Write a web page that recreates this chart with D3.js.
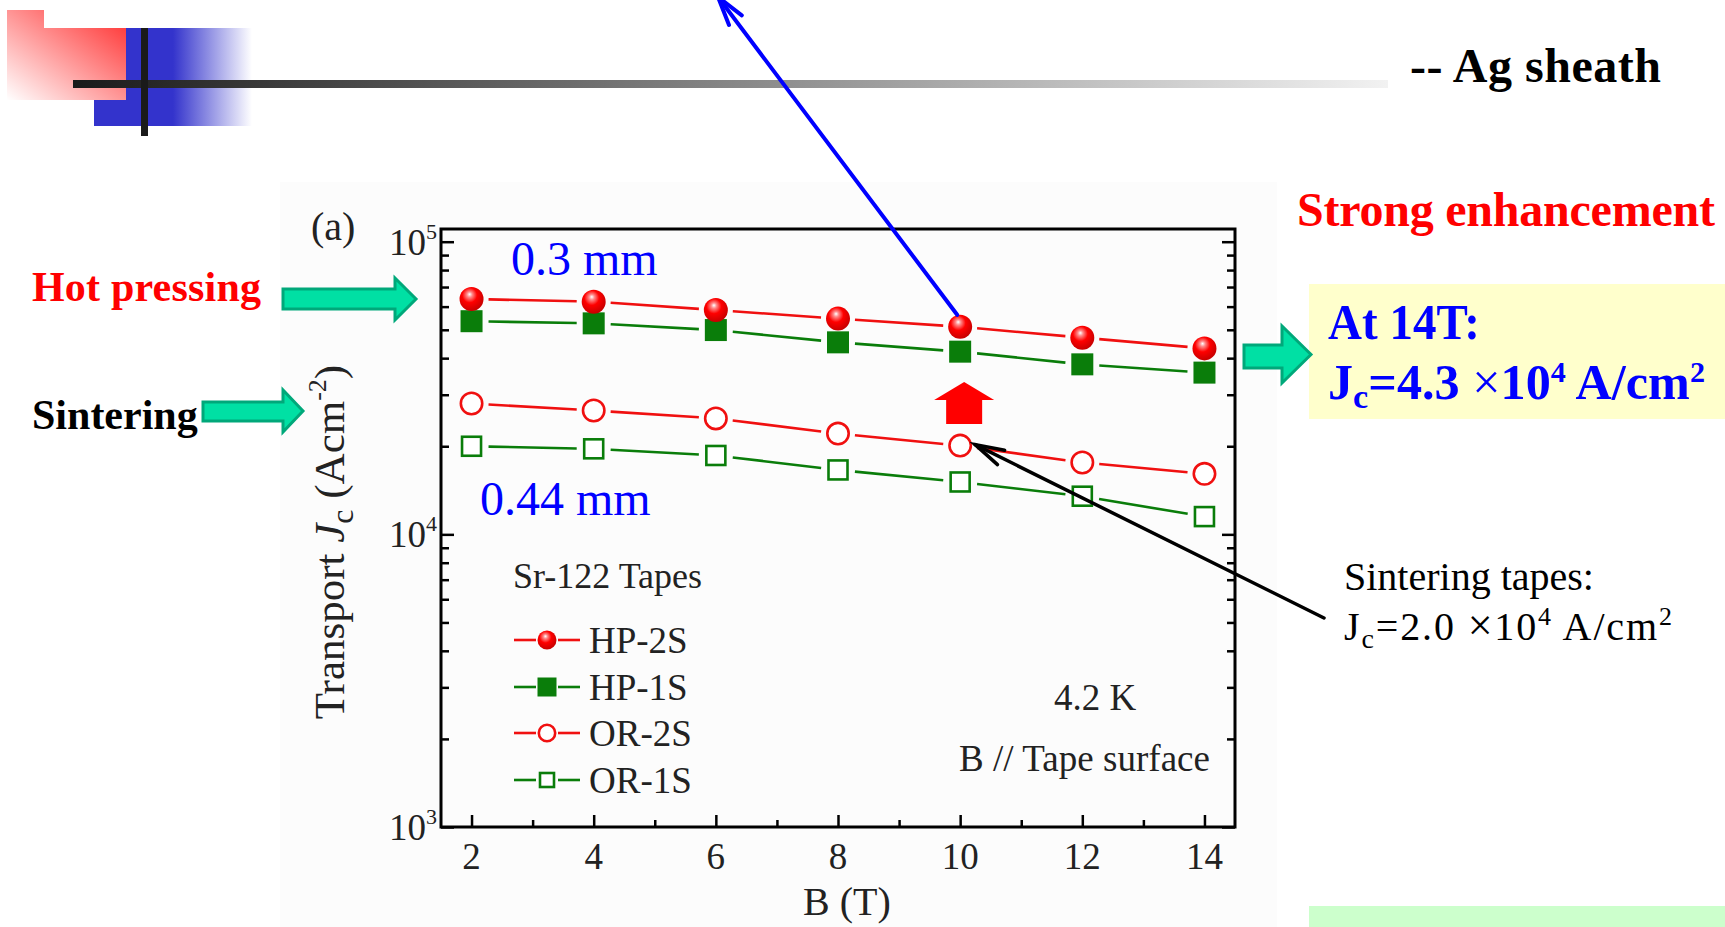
<!DOCTYPE html>
<html><head><meta charset="utf-8">
<script src="https://cdn.jsdelivr.net/npm/d3@7"></script>
<style>
body{margin:0;background:#fff;}
svg{display:block;}
text{font-family:"Liberation Serif","Times New Roman",serif;}
</style>
</head><body>
<svg id="c" width="1725" height="927"></svg>
<script>
// ---------- data ----------
const fields = [2, 4, 6, 8, 10, 12, 14];            // B (T)
const hp2s = [63700, 62400, 58400, 54600, 51200, 47000, 43200];
const hp1s = [53500, 52600, 49900, 45300, 42100, 38100, 35700];
const or2s = [28000, 26500, 24900, 22100, 20100, 17600, 16100];
const or1s = [20000, 19600, 18600, 16600, 15100, 13500, 11500];
const seriesNames = ["HP-2S", "HP-1S", "OR-2S", "OR-1S"];
const xTickValues = [2, 4, 6, 8, 10, 12, 14];
const xMinorTicks = [3, 5, 7, 9, 11, 13];
const yMajorTicks = [1e3, 1e4, 1e5];
const yTickExponents = ["3", "4", "5"];
const yMinorTicks = [2e3,3e3,4e3,5e3,6e3,7e3,8e3,9e3,2e4,3e4,4e4,5e4,6e4,7e4,8e4,9e4];

const RED = "#f01010", GREEN = "#0a7d0a";
const series = [
  {name: seriesNames[0], values: hp2s, color: RED,   shape: "ball"},
  {name: seriesNames[1], values: hp1s, color: GREEN, shape: "fsquare"},
  {name: seriesNames[2], values: or2s, color: RED,   shape: "ocircle"},
  {name: seriesNames[3], values: or1s, color: GREEN, shape: "osquare"}
];

const svg = d3.select("#c");
const defs = svg.append("defs");

// gradients
const gPink = defs.append("linearGradient").attr("id","gPink").attr("x1",1).attr("y1",0).attr("x2",0).attr("y2",1);
gPink.append("stop").attr("offset",0).attr("stop-color","#ff2a2a");
gPink.append("stop").attr("offset",1).attr("stop-color","#ffffff");
const gBlue = defs.append("linearGradient").attr("id","gBlue").attr("x1",0).attr("y1",0).attr("x2",1).attr("y2",0);
gBlue.append("stop").attr("offset",0).attr("stop-color","#3333cc");
gBlue.append("stop").attr("offset",0.5).attr("stop-color","#3333cc");
gBlue.append("stop").attr("offset",1).attr("stop-color","#ffffff");
const gBar = defs.append("linearGradient").attr("id","gBar").attr("x1",0).attr("y1",0).attr("x2",1).attr("y2",0);
gBar.append("stop").attr("offset",0).attr("stop-color","#1a1a1a");
gBar.append("stop").attr("offset",1).attr("stop-color","#f2f2f2");
const gBall = defs.append("radialGradient").attr("id","gBall").attr("cx",0.42).attr("cy",0.38).attr("r",0.62).attr("fx",0.42).attr("fy",0.3);
gBall.append("stop").attr("offset",0).attr("stop-color","#ffffff");
gBall.append("stop").attr("offset",0.18).attr("stop-color","#ff8a8a");
gBall.append("stop").attr("offset",0.5).attr("stop-color","#ff0000");
gBall.append("stop").attr("offset",1).attr("stop-color","#c80000");

// ---------- header decoration ----------
svg.append("rect").attr("x",94).attr("y",28).attr("width",158).attr("height",98).attr("fill","url(#gBlue)");
svg.append("path").attr("d","M7,10 H44 V28 H126 V100 H7 Z").attr("fill","url(#gPink)");
svg.append("rect").attr("x",73).attr("y",80).attr("width",1315).attr("height",8).attr("fill","url(#gBar)");
svg.append("rect").attr("x",141).attr("y",28).attr("width",7).attr("height",108).attr("fill","#1a1a1a");
svg.append("text").attr("x",1410).attr("y",82).attr("font-size",48).attr("font-weight","bold").attr("fill","#000").attr("textLength",251).text("-- Ag sheath");

// figure panel background
svg.append("rect").attr("x",280).attr("y",182).attr("width",997).attr("height",745).attr("fill","#fcfcfc");

// ---------- scales ----------
const x = d3.scaleLinear().domain([1.5, 14.5]).range([441, 1235]);
const y = d3.scaleLog().domain([1000, Math.pow(10, 5.0434)]).range([827, 229]);

// ---------- axes ----------
const axG = svg.append("g").attr("class","axes");
function styleAxis(g, w){ g.select(".domain").remove(); g.selectAll("line").attr("stroke","#000").attr("stroke-width",w); g.selectAll("text").remove(); }
axG.append("g").attr("transform","translate(0,827)").call(d3.axisBottom(x).tickValues(xTickValues).tickSize(-12)).call(g=>styleAxis(g,2.5));
axG.append("g").attr("transform","translate(0,827)").call(d3.axisBottom(x).tickValues(xMinorTicks).tickSize(-7)).call(g=>styleAxis(g,2.5));
axG.append("g").attr("transform","translate(441,0)").call(d3.axisLeft(y).tickValues(yMajorTicks).tickSize(-13)).call(g=>styleAxis(g,2.5));
axG.append("g").attr("transform","translate(441,0)").call(d3.axisLeft(y).tickValues(yMinorTicks).tickSize(-8)).call(g=>styleAxis(g,2.5));
axG.append("g").attr("transform","translate(1235,0)").call(d3.axisRight(y).tickValues(yMajorTicks).tickSize(-13)).call(g=>styleAxis(g,2.5));
axG.append("g").attr("transform","translate(1235,0)").call(d3.axisRight(y).tickValues(yMinorTicks).tickSize(-8)).call(g=>styleAxis(g,2.5));
svg.append("rect").attr("x",441).attr("y",229).attr("width",794).attr("height",598).attr("fill","none").attr("stroke","#000").attr("stroke-width",3);

// tick labels
svg.append("g").selectAll("text").data(xTickValues).join("text")
  .attr("x",d=>x(d)).attr("y",869).attr("text-anchor","middle").attr("font-size",37).attr("fill","#222").text(d=>d);
const yl = svg.append("g").selectAll("text").data(yMajorTicks).join("text")
  .attr("x",437).attr("y",d=>y(d)+13).attr("text-anchor","end").attr("font-size",37).attr("fill","#222");
yl.append("tspan").text("10");
yl.append("tspan").attr("dy",-16).attr("font-size",22).text((d,i)=>yTickExponents[i]);

// axis titles
svg.append("text").attr("x",847).attr("y",915).attr("text-anchor","middle").attr("font-size",40).attr("fill","#222").text("B (T)");
const yt = svg.append("text").attr("transform","translate(344,542) rotate(-90)").attr("text-anchor","middle").attr("font-size",43).attr("fill","#222");
yt.append("tspan").text("Transport ");
yt.append("tspan").attr("font-style","italic").text("J");
yt.append("tspan").attr("dy",9).attr("font-size",32).text("c");
yt.append("tspan").attr("dy",-9).text(" (Acm");
yt.append("tspan").attr("dy",-18).attr("font-size",26).text("-2");
yt.append("tspan").attr("dy",18).text(")");
svg.append("text").attr("x",311).attr("y",240).attr("font-size",40).attr("fill","#222").text("(a)");

// ---------- data lines (with gaps at markers) ----------
const GAP = 17;
const lineG = svg.append("g");
series.forEach(s=>{
  const pts = fields.map((f,i)=>[x(f), y(s.values[i])]);
  const segs = d3.pairs(pts).map(([a,b])=>{
    const dx=b[0]-a[0], dy=b[1]-a[1], L=Math.hypot(dx,dy), ux=dx/L, uy=dy/L;
    return [a[0]+ux*GAP, a[1]+uy*GAP, b[0]-ux*GAP, b[1]-uy*GAP];
  });
  lineG.selectAll(null).data(segs).join("line")
    .attr("x1",d=>d[0]).attr("y1",d=>d[1]).attr("x2",d=>d[2]).attr("y2",d=>d[3])
    .attr("stroke",s.color).attr("stroke-width",2.6);
});

function drawMarker(g, shape, cx, cy, size){
  if(shape==="ball") g.append("circle").attr("cx",cx).attr("cy",cy).attr("r",size).attr("fill","url(#gBall)");
  else if(shape==="fsquare") g.append("rect").attr("x",cx-size).attr("y",cy-size).attr("width",2*size).attr("height",2*size).attr("fill",GREEN);
  else if(shape==="ocircle") g.append("circle").attr("cx",cx).attr("cy",cy).attr("r",size-1.3).attr("fill","#fff").attr("stroke",RED).attr("stroke-width",2.6);
  else g.append("rect").attr("x",cx-size+2.5).attr("y",cy-size+2.5).attr("width",2*size-5).attr("height",2*size-5).attr("fill","#fff").attr("stroke",GREEN).attr("stroke-width",2.6);
}
const markG = svg.append("g");
[3,2,1,0].forEach(k=>{
  const s = series[k];
  const sz = (s.shape==="ball")?12:(s.shape==="fsquare"?11:12);
  fields.forEach((f,i)=>drawMarker(markG, s.shape, x(f), y(s.values[i]), sz));
});

// ---------- legend ----------
svg.append("text").attr("x",513).attr("y",588).attr("font-size",36).attr("fill","#222").text("Sr-122 Tapes");
const legRows = [640, 687, 733, 780];
series.forEach((s,k)=>{
  const cy = legRows[k];
  svg.append("line").attr("x1",514).attr("x2",536).attr("y1",cy).attr("y2",cy).attr("stroke",s.color).attr("stroke-width",2.6);
  svg.append("line").attr("x1",558).attr("x2",580).attr("y1",cy).attr("y2",cy).attr("stroke",s.color).attr("stroke-width",2.6);
  drawMarker(svg, s.shape, 547, cy, 9.5);
  svg.append("text").attr("x",589).attr("y",cy+13).attr("font-size",37).attr("fill","#222").text(s.name);
});
svg.append("text").attr("x",1054).attr("y",710).attr("font-size",37).attr("fill","#222").text("4.2 K");
svg.append("text").attr("x",959).attr("y",771).attr("font-size",37).attr("fill","#222").attr("textLength",251).text("B // Tape surface");

// ---------- annotations ----------
svg.append("text").attr("x",511).attr("y",275).attr("font-size",48).attr("fill","#0000ff").text("0.3 mm");
svg.append("text").attr("x",480).attr("y",515).attr("font-size",48).attr("fill","#0000ff").text("0.44 mm");

function teal(x0, x1, xt, ys0, ys1, yh0, yh1){
  const ym=(yh0+yh1)/2;
  svg.append("path").attr("d",`M${x0},${ys0} H${x1} V${yh0} L${xt},${ym} L${x1},${yh1} V${ys1} H${x0} Z`)
    .attr("fill","#00e0a4").attr("stroke","#00a87a").attr("stroke-width",3).attr("stroke-linejoin","miter");
}
svg.append("text").attr("x",32).attr("y",301).attr("font-size",42).attr("font-weight","bold").attr("fill","#ff0000").attr("textLength",229).text("Hot pressing");
teal(283, 395, 416, 289, 309, 278, 320);
svg.append("text").attr("x",32).attr("y",429).attr("font-size",42).attr("font-weight","bold").attr("fill","#000").text("Sintering");
teal(203, 283, 303, 402, 421, 390, 432);

svg.append("text").attr("x",1297).attr("y",226).attr("font-size",48).attr("font-weight","bold").attr("fill","#ff0000").attr("textLength",418).text("Strong enhancement");

svg.append("rect").attr("x",1309).attr("y",284).attr("width",416).attr("height",135).attr("fill","#ffffcc");
teal(1244, 1282, 1311, 345, 368, 326, 383);
svg.append("text").attr("x",1328).attr("y",339).attr("font-size",50).attr("font-weight","bold").attr("fill","#0000ff").attr("textLength",152).attr("lengthAdjust","spacingAndGlyphs").text("At 14T:");
const t2 = svg.append("text").attr("x",1328).attr("y",399).attr("font-size",50).attr("font-weight","bold").attr("fill","#0000ff")
  .attr("textLength",377).attr("lengthAdjust","spacingAndGlyphs");
t2.append("tspan").text("J");
t2.append("tspan").attr("dy",9).attr("font-size",34).text("c");
t2.append("tspan").attr("dy",-9).text("=4.3 ");
t2.append("tspan").attr("font-size",50).attr("font-weight","normal").text("\u00D7");
t2.append("tspan").text("10");
t2.append("tspan").attr("dy",-17).attr("font-size",30).text("4");
t2.append("tspan").attr("dy",17).text(" A/cm");
t2.append("tspan").attr("dy",-17).attr("font-size",30).text("2");

svg.append("rect").attr("x",1309).attr("y",906).attr("width",416).attr("height",21).attr("fill","#ccffcc");

// red up arrow above OR-2S at 10 T
const ax = x(fields[4]) + 4;
svg.append("path").attr("d",`M${ax},382 L${ax+30},400 H${ax+18} V424 H${ax-18} V400 H${ax-30} Z`).attr("fill","#ff0000");

// arrows
function arrowLine(x1,y1,x2,y2,color,w,head){
  svg.append("line").attr("x1",x1).attr("y1",y1).attr("x2",x2).attr("y2",y2).attr("stroke",color).attr("stroke-width",w).attr("stroke-linecap","round");
  const a = Math.atan2(y1-y2, x1-x2), L=head, da=0.27;
  svg.append("path").attr("d",`M${x2+L*Math.cos(a-da)},${y2+L*Math.sin(a-da)} L${x2},${y2} L${x2+L*Math.cos(a+da)},${y2+L*Math.sin(a+da)}`)
    .attr("fill","none").attr("stroke",color).attr("stroke-width",w).attr("stroke-linecap","round").attr("stroke-linejoin","miter");
}
arrowLine(x(fields[4])-3, y(hp2s[4])-12, 718, -3, "#0000ff", 4, 30);
arrowLine(1324, 618, x(fields[4])+15, y(or2s[4])-1, "#000", 3.5, 30);

const t3x = 1344;
svg.append("text").attr("x",t3x).attr("y",590).attr("font-size",40).attr("fill","#000").text("Sintering tapes:");
const t4 = svg.append("text").attr("x",t3x).attr("y",640).attr("font-size",40).attr("fill","#000")
  .attr("textLength",328).attr("lengthAdjust","spacing");
t4.append("tspan").text("J");
t4.append("tspan").attr("dy",8).attr("font-size",28).text("c");
t4.append("tspan").attr("dy",-8).text("=2.0 ");
t4.append("tspan").attr("font-size",44).text("\u00D7");
t4.append("tspan").text("10");
t4.append("tspan").attr("dy",-15).attr("font-size",26).text("4");
t4.append("tspan").attr("dy",15).text(" A/cm");
t4.append("tspan").attr("dy",-15).attr("font-size",26).text("2");
</script>
</body></html>
